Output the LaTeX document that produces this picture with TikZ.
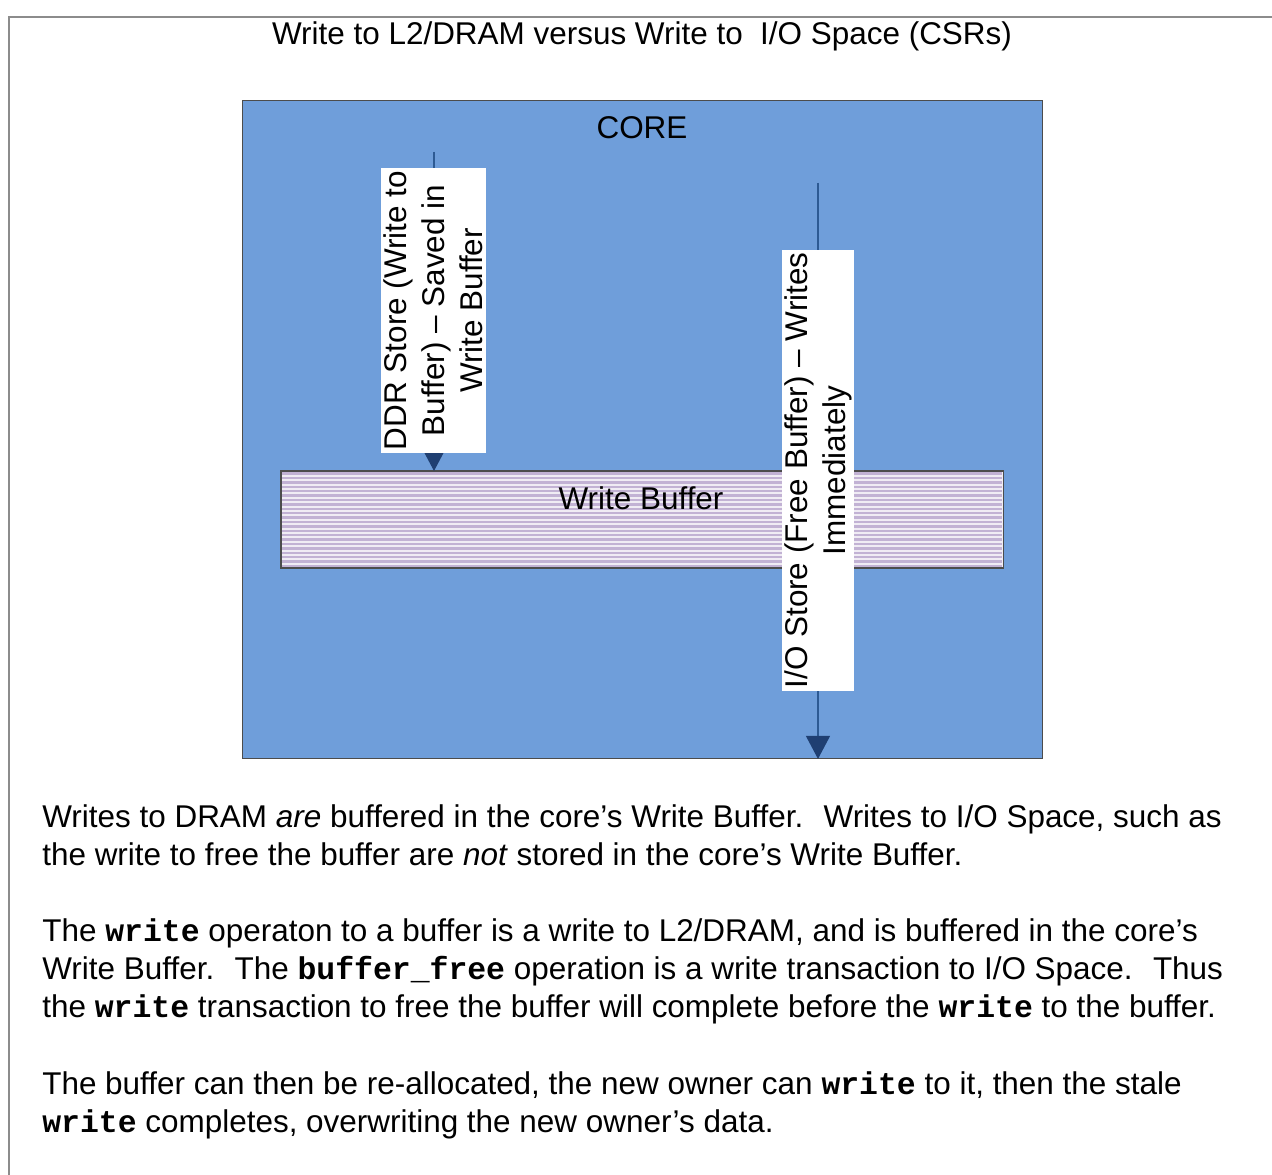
\documentclass[tikz,border=0pt]{standalone}
\usepackage{fontspec}
\setmainfont{Liberation Sans}
\setmonofont{Liberation Mono}
\usetikzlibrary{arrows.meta,positioning}
\definecolor{corebl}{HTML}{6F9EDA}
\definecolor{wbpale}{HTML}{F0ECF4}
\definecolor{wbstripe}{HTML}{C2B2D4}
\definecolor{arrbl}{HTML}{2D5A93}
\definecolor{headbl}{HTML}{1F3F72}
\definecolor{frm}{HTML}{8C8C8C}
\tikzset{
  txt/.style={font=\fontsize{17.9}{21.6}\selectfont,inner sep=0pt},
  lbl/.style={txt,fill=white,rotate=90,align=center,inner sep=1.5pt},
  st/.style={draw=arrbl,line width=0.7pt,-{Triangle[length=4.6mm,width=4.8mm,color=headbl,fill=headbl]}},
  stripe/.style={wbstripe,line width=1.3pt},
  box/.style={draw=black!70,line width=0.6pt,inner sep=0pt,anchor=north west}
}
\newcommand{\cw}[1]{\texttt{\bfseries #1}}

\begin{document}
\begin{tikzpicture}[x=0.02cm,y=-0.02cm]
\useasboundingbox (0,0) rectangle (1272,1175);
\draw[frm,line width=1.2pt] (1272,17) -- (9,17) -- (9,1175);
\node[txt] (title) at (642,36) {Write to L2/DRAM versus Write to~ I/O Space (CSRs)};
\node[box,fill=corebl,minimum width=16cm,minimum height=13.16cm] (core) at (242,100) {};
\node[txt] (coretxt) at (642,128) {CORE};
\node[box,fill=wbpale,minimum width=14.44cm,minimum height=1.92cm] (wbuf) at (281,471) {};
\foreach \y in {473.6,478,...,566} \draw[stripe] (282,\y) -- (1002,\y);
\draw[draw=black!70,line width=0.6pt] (wbuf.north west) rectangle (wbuf.south east);
\node[txt] (wbtxt) at (641,498) {Write Buffer};
\coordinate (ddrtop) at (434,152);
\coordinate (iotop) at (818,183);
\draw[st] (ddrtop) -- (ddrtop |- wbuf.north);
\draw[st] (iotop) -- (iotop |- core.south);
\node[lbl] (ddr) at (433.5,310.5) {DDR Store (Write to\\Buffer) -- Saved in\\Write Buffer};
\node[lbl] (io) at (818,470.5) {I/O Store (Free Buffer) -- Writes\\Immediately};
\node[txt,align=left,anchor=north west] (para1) at (42,804) {Writes to DRAM \textit{are} buffered in the core’s Write Buffer.~ Writes to I/O Space, such as\\the write to free the buffer are \textit{not} stored in the core’s Write Buffer.};
\node[txt,align=left,anchor=north west] (para2) at (42,918) {The \cw{write} operaton to a buffer is a write to L2/DRAM, and is buffered in the core’s\\Write Buffer.~ The \cw{buffer\_free} operation is a write transaction to I/O Space.~ Thus\\the \cw{write} transaction to free the buffer will complete before the \cw{write} to the buffer.};
\node[txt,align=left,anchor=north west] (para3) at (42,1071) {The buffer can then be re-allocated, the new owner can \cw{write} to it, then the stale\\\cw{write} completes, overwriting the new owner’s data.};
\end{tikzpicture}
\end{document}
